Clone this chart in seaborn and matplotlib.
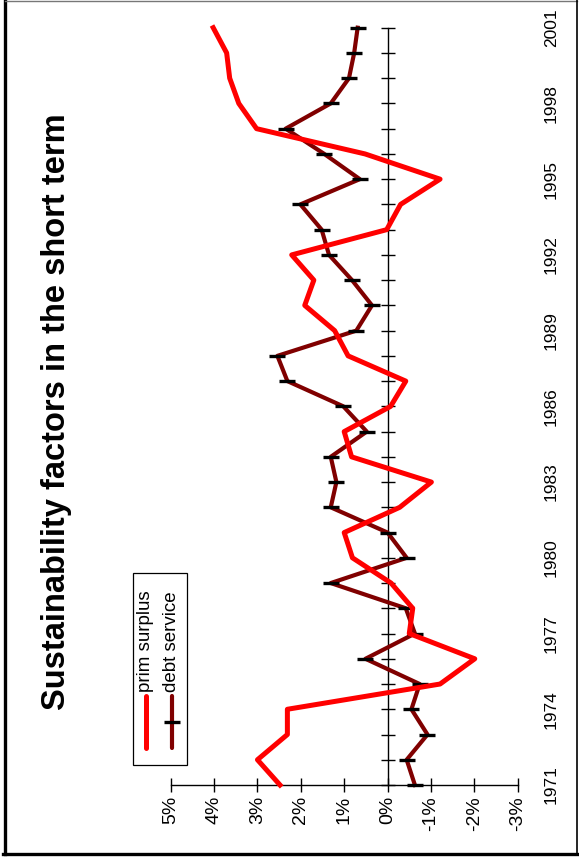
import numpy as np
import pandas as pd
import matplotlib
matplotlib.use("Agg")
import matplotlib.pyplot as plt
from matplotlib.lines import Line2D
from matplotlib.patches import Rectangle
import seaborn as sns

# ---------------- data ----------------
years = list(range(1971, 2002))
prim_surplus = [2.48, 3.00, 2.31, 2.31, -1.21, -2.01, -0.50, -0.58, -0.08, 0.81,
                1.00, -0.28, -1.01, 0.83, 1.00, -0.07, -0.42, 0.91, 1.22, 1.91,
                1.70, 2.21, 0.02, -0.30, -1.21, 0.52, 3.02, 3.43, 3.64, 3.71, 4.02]
debt_service = [-0.63, -0.44, -0.92, -0.55, -0.74, 0.51, -0.63, -0.42, 1.31, -0.44,
                0.00, 1.31, 1.18, 1.31, 0.48, 1.02, 2.31, 2.54, 0.72, 0.36,
                0.82, 1.35, 1.52, 2.01, 0.64, 1.46, 2.35, 1.31, 0.89, 0.77, 0.69]
series_names = ["prim surplus", "debt service"]
value_ticks = [5, 4, 3, 2, 1, 0, -1, -2, -3]
value_labels = ["5%", "4%", "3%", "2%", "1%", "0%", "-1%", "-2%", "-3%"]
year_labels = list(range(1971, 2002, 3))
title = "Sustainability factors in the short term"

df = pd.DataFrame({
    "year": years * 2,
    "value": prim_surplus + debt_service,
    "series": [series_names[0]] * len(years) + [series_names[1]] * len(years),
})

# ---------------- figure ----------------
W, H = 579, 861
fig = plt.figure(figsize=(W / 100, H / 100), dpi=100)
plt.rcParams["font.family"] = ["Liberation Sans", "DejaVu Sans"]

def fx(px):
    return px / W

def fy(py):
    return (H - py) / H

ax_left, ax_right, ax_top, ax_bot = 170.7, 517.7, 27.7, 785.0
ax = fig.add_axes([fx(ax_left), fy(ax_bot), fx(ax_right) - fx(ax_left), fy(ax_top) - fy(ax_bot)])
ax.set_facecolor("white")

RED = "#FF0000"
DARK = "#800000"

sns.lineplot(data=df[df.series == series_names[1]], x="value", y="year", orient="y",
             estimator=None, sort=True, color=DARK, lw=3.0, marker="_", markersize=11,
             markeredgewidth=2.4, markeredgecolor="black", ax=ax, clip_on=False, zorder=3)
sns.lineplot(data=df[df.series == series_names[0]], x="value", y="year", orient="y",
             estimator=None, sort=True, color=RED, lw=3.6, ax=ax, clip_on=False, zorder=4)

ax.set_xlim(5, -3)
ax.set_ylim(1971, 2001)
ax.set_xlabel("")
ax.set_ylabel("")

for s in ["top", "right"]:
    ax.spines[s].set_visible(False)
ax.spines["left"].set_position(("data", 0))
ax.spines["left"].set_color("black")
ax.spines["left"].set_linewidth(1.0)
ax.spines["bottom"].set_color("black")
ax.spines["bottom"].set_linewidth(1.0)

ax.set_xticks(value_ticks)
ax.set_xticklabels(value_labels)
ax.tick_params(axis="x", direction="inout", length=9.5, width=1.0, color="black",
               labelrotation=90, labelsize=14, pad=3)
ax.set_yticks(years)
ax.tick_params(axis="y", direction="inout", length=9.5, width=1.0, color="black",
               labelleft=False)

ytrans = ax.get_yaxis_transform()
xoff = (544 - ax_left) / (ax_right - ax_left)
for yl in year_labels:
    ax.text(xoff, yl, str(yl), transform=ytrans, rotation=90, ha="left", va="center",
            fontsize=12.5, clip_on=False)

# title
fig.text(fx(57), fy(412), title, rotation=90, ha="center", va="center",
         fontsize=23.5, fontweight="bold")

# legend (rotated, drawn manually)
fig.add_artist(Rectangle((fx(133), fy(765)), fx(187) - fx(133), fy(573) - fy(765),
                         transform=fig.transFigure, facecolor="white", edgecolor="black",
                         lw=0.9))
fig.add_artist(Line2D([fx(146), fx(146)], [fy(748), fy(696)], transform=fig.transFigure,
                      color=RED, lw=3.6, solid_capstyle="round"))
fig.add_artist(Line2D([fx(172), fx(172)], [fy(748), fy(696)], transform=fig.transFigure,
                      color=DARK, lw=3.0, solid_capstyle="round"))
fig.add_artist(Line2D([fx(172)], [fy(722)], transform=fig.transFigure, marker="_",
                      markersize=11, markeredgewidth=2.4, color="black"))
fig.text(fx(146), fy(692), series_names[0], rotation=90, ha="center", va="bottom",
         fontsize=13.5)
fig.text(fx(172), fy(692), series_names[1], rotation=90, ha="center", va="bottom",
         fontsize=13.5)

# outer frame
fig.add_artist(Line2D([fx(4.5), fx(4.5)], [fy(0), fy(853.5)], transform=fig.transFigure,
                      color="black", lw=2.4))
fig.add_artist(Line2D([fx(3), fx(577)], [fy(853.5), fy(853.5)], transform=fig.transFigure,
                      color="black", lw=2.4))
fig.add_artist(Line2D([fx(4.5), fx(577)], [fy(0.5), fy(0.5)], transform=fig.transFigure,
                      color="#777777", lw=1.0))
fig.add_artist(Line2D([fx(577), fx(577)], [fy(0), fy(853.5)], transform=fig.transFigure,
                      color="black", lw=1.2))

fig.savefig("out.png", dpi=100)
